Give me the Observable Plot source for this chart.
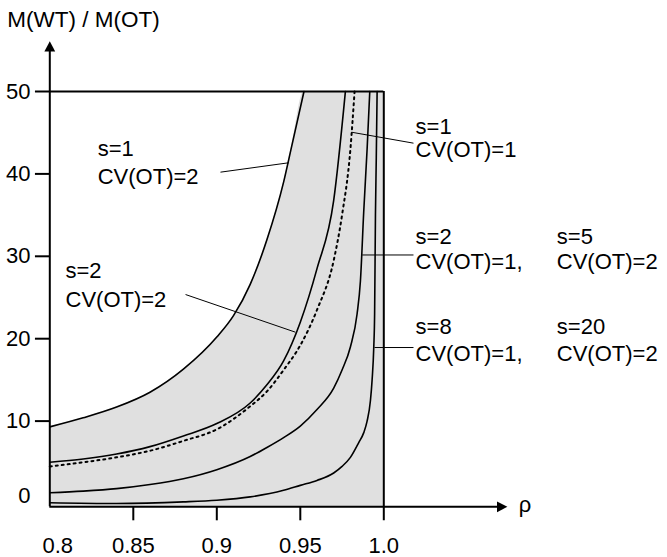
<!DOCTYPE html>
<html>
<head>
<meta charset="utf-8">
<script src="https://cdn.jsdelivr.net/npm/d3@7"></script>
<script src="https://cdn.jsdelivr.net/npm/@observablehq/plot@0.6"></script>
<style>
  html, body { margin: 0; padding: 0; background: #ffffff; }
</style>
</head>
<body>
<div id="chart"></div>
<script>
// ---- Data ----
// s=1, CV(OT)=2 (top curve; bounds the grey region)
const rhoA = [0.80, 0.82, 0.84, 0.86, 0.88, 0.90, 0.91, 0.92, 0.93, 0.94, 0.945, 0.9522];
const valA = [9.3, 10.4, 11.7, 13.5, 16.3, 20.2, 22.8, 26.6, 32.0, 39.0, 43.5, 50];
// s=2, CV(OT)=2
const rhoB = [0.80, 0.82, 0.84, 0.86, 0.88, 0.90, 0.92, 0.93, 0.94, 0.95, 0.96, 0.97, 0.977];
const valB = [5.0, 5.4, 6.0, 6.9, 8.2, 9.7, 12.2, 14.4, 17.3, 22.0, 28.5, 36.8, 50];
// s=1, CV(OT)=1 (dotted)
const rhoDot = [0.80, 0.82, 0.84, 0.86, 0.88, 0.90, 0.92, 0.93, 0.94, 0.95, 0.96, 0.97, 0.975, 0.98, 0.9825];
const valDot = [4.5, 5.0, 5.6, 6.4, 7.6, 9.0, 11.8, 13.6, 16.2, 19.2, 23.5, 29.5, 35.0, 43.0, 50];
// s=2, CV(OT)=1  /  s=5, CV(OT)=2
const rhoC = [0.80, 0.82, 0.84, 0.86, 0.88, 0.90, 0.92, 0.93, 0.94, 0.95, 0.96, 0.97, 0.975, 0.98, 0.984, 0.986, 0.988, 0.99, 0.9916];
const valC = [1.3, 1.5, 1.8, 2.3, 3.0, 4.1, 5.7, 6.8, 8.0, 9.4, 11.4, 14.0, 16.2, 19.0, 23.0, 27.0, 35.5, 43.0, 50];
// s=8, CV(OT)=1  /  s=20, CV(OT)=2
const rhoD = [0.80, 0.84, 0.88, 0.90, 0.92, 0.94, 0.95, 0.96, 0.97, 0.975, 0.98, 0.985, 0.988, 0.99, 0.992, 0.993, 0.994, 0.9945, 0.995, 0.9955, 0.996];
const valD = [0.1, 0.0, 0.2, 0.4, 0.8, 1.6, 2.2, 2.8, 3.7, 4.5, 5.6, 7.4, 8.6, 10.0, 12.5, 15.0, 19.0, 23.0, 35.0, 42.0, 50];

// Axis ticks and labels
const xTicks = [0.85, 0.9, 0.95];
const xTickLabelValues = [0.8, 0.85, 0.9, 0.95, 1.0];
const xTickLabels = ["0.8", "0.85", "0.9", "0.95", "1.0"];
const yTicks = [10, 20, 30, 40, 50];
const yTickLabels = ["10", "20", "30", "40", "50"];
const yTitle = "M(WT) / M(OT)";
const xTitle = "ρ";

// Domain bounds of the drawn frame
const xMin = 0.8, xMax = 1.0, yMax = 50, yAxis = -0.4;
const xArrowTip = 1.074, yArrowTip = 56.1;

// Annotation labels (data coordinates)
const labelTexts = ["s=1", "CV(OT)=2", "s=2", "CV(OT)=2",
                    "s=1", "CV(OT)=1",
                    "s=2", "CV(OT)=1,", "s=5", "CV(OT)=2",
                    "s=8", "CV(OT)=1,", "s=20", "CV(OT)=2"];
const labelX = [0.8287, 0.8287, 0.8094, 0.8094,
                1.019, 1.019,
                1.019, 1.019, 1.1036, 1.1036,
                1.019, 1.019, 1.1036, 1.1036];
const labelY = [42.23, 38.80, 27.31, 23.82,
                44.90, 42.11,
                31.55, 28.46, 31.55, 28.46,
                20.57, 17.35, 20.57, 17.35];
// Leader lines: from (x1,y1) to (x2,y2)
const leadX1 = [0.9022, 0.8813, 0.98066, 0.98707, 0.99443];
const leadY1 = [40.21, 25.36, 45.06, 30.16, 18.93];
const leadX2 = [0.9431, 0.9471, 1.01778, 1.01778, 1.01778];
const leadY2 = [41.35, 20.79, 43.73, 30.16, 18.93];

// ---- Build tables ----
const pts = (r, v) => r.map((x, i) => ({x, y: v[i]}));
const curveA = pts(rhoA, valA);
const curveB = pts(rhoB, valB);
const curveDot = pts(rhoDot, valDot);
const curveC = pts(rhoC, valC);
const curveD = pts(rhoD, valD);
const fillData = curveA.concat([{x: xMax, y: yMax}]);
const labels = labelTexts.map((t, i) => ({t, x: labelX[i], y: labelY[i]}));
const leaders = leadX1.map((x1, i) => ({x1, y1: leadY1[i], x2: leadX2[i], y2: leadY2[i]}));
const xLab = xTickLabels.map((t, i) => ({t, x: xTickLabelValues[i]}));
const yLab = yTickLabels.map((t, i) => ({t, y: yTicks[i]}));

const arrowUp = {draw(ctx, size) { const r = Math.sqrt(size / Math.PI); ctx.moveTo(0, 0); ctx.lineTo(1.2 * r, 2.3 * r); ctx.lineTo(-1.2 * r, 2.3 * r); ctx.closePath(); }};
const arrowRight = {draw(ctx, size) { const r = Math.sqrt(size / Math.PI); ctx.moveTo(0, 0); ctx.lineTo(-2.3 * r, -1.2 * r); ctx.lineTo(-2.3 * r, 1.2 * r); ctx.closePath(); }};

const FS = 22;
const lineStyle = {stroke: "black", strokeWidth: 1.6, curve: "monotone-x"};

const chart = Plot.plot({
  width: 667,
  height: 557,
  marginLeft: 49.3,
  marginRight: 283.7,
  marginTop: 91,
  marginBottom: 54,
  x: {domain: [xMin, xMax], axis: null},
  y: {domain: [0, yMax], axis: null},
  style: {fontFamily: "'Liberation Sans', Arial, sans-serif", fontSize: "22px", background: "white", color: "black", overflow: "visible"},
  marks: [
    Plot.areaY(fillData, {x: "x", y1: yAxis, y2: "y", curve: "monotone-x", fill: "#e0e0e0"}),
    Plot.line(curveA, {x: "x", y: "y", ...lineStyle}),
    Plot.line(curveB, {x: "x", y: "y", ...lineStyle}),
    Plot.line(curveDot, {x: "x", y: "y", stroke: "black", strokeWidth: 2, strokeDasharray: "2,4", curve: "monotone-x"}),
    Plot.line(curveC, {x: "x", y: "y", ...lineStyle}),
    Plot.line(curveD, {x: "x", y: "y", ...lineStyle}),
    Plot.ruleY([yMax], {x1: xMin, x2: xMax, stroke: "black", strokeWidth: 2}),
    Plot.ruleX([xMax], {y1: -2.1, y2: yMax, stroke: "black", strokeWidth: 2}),
    Plot.ruleX([xMin], {y1: yAxis, y2: yArrowTip - 1, stroke: "black", strokeWidth: 2}),
    Plot.ruleY([yAxis], {x1: xMin, x2: xArrowTip - 0.005, stroke: "black", strokeWidth: 2}),
    Plot.dot([{x: xMin, y: yArrowTip}], {x: "x", y: "y", symbol: arrowUp, r: 4.5, fill: "black", stroke: "none"}),
    Plot.dot([{x: xArrowTip, y: yAxis}], {x: "x", y: "y", symbol: arrowRight, r: 4.5, fill: "black", stroke: "none"}),
    Plot.ruleX(xTicks, {y1: -2.1, y2: yAxis, stroke: "black", strokeWidth: 2}),
    Plot.ruleY(yTicks, {x1: 0.7914, x2: xMin, stroke: "black", strokeWidth: 2}),
    Plot.text(yLab, {x: xMin, y: "y", text: "t", dx: -19.3, textAnchor: "end", lineAnchor: "middle", fontSize: FS}),
    Plot.text([{t: "0", y: 0}], {x: xMin, y: "y", text: "t", dx: -19.3, dy: -8, textAnchor: "end", lineAnchor: "middle", fontSize: FS}),
    Plot.text(xLab.slice(0, 1), {x: "x", y: -5.95, text: "t", dx: 8, textAnchor: "middle", lineAnchor: "bottom", fontSize: FS}),
    Plot.text(xLab.slice(1), {x: "x", y: -5.95, text: "t", textAnchor: "middle", lineAnchor: "bottom", fontSize: FS}),
    Plot.text([yTitle], {x: 0.77449, y: 57.77, text: d => d, textAnchor: "start", lineAnchor: "bottom", fontSize: 22.5}),
    Plot.text([xTitle], {x: 1.0808, y: -1.03, text: d => d, textAnchor: "start", lineAnchor: "bottom", fontSize: FS}),
    Plot.link(leaders, {x1: "x1", y1: "y1", x2: "x2", y2: "y2", stroke: "black", strokeWidth: 1}),
    Plot.text(labels, {x: "x", y: "y", text: "t", textAnchor: "start", lineAnchor: "bottom", fontSize: FS})
  ]
});
document.getElementById("chart").appendChild(chart);
</script>
</body>
</html>
